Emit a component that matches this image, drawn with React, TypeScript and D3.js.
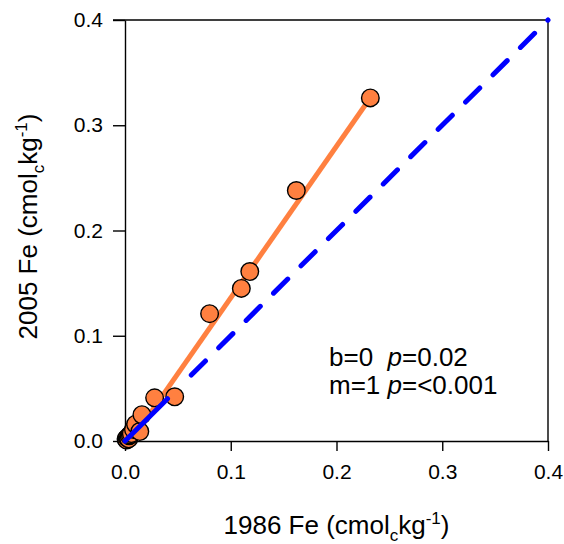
import { useEffect, useRef } from 'react';
import * as d3 from 'd3';

// Fe, 1986 vs 2005 (cmolc kg-1)
const fe1986 = [0.001, 0.0015, 0.002, 0.003, 0.0035, 0.004, 0.005, 0.006, 0.008, 0.010, 0.014, 0.016, 0.028, 0.047, 0.080, 0.110, 0.118, 0.162, 0.232];
const fe2005 = [0.002, 0.001, 0.003, 0.003, 0.002, 0.005, 0.006, 0.007, 0.011, 0.016, 0.009, 0.025, 0.041, 0.042, 0.121, 0.145, 0.161, 0.238, 0.326];

// regression line
const fitSlope = 1.44;
const fitIntercept = -0.008;

// 1:1 reference line
const oneToOne = [0, 0.4];

const axisTicks = [0, 0.1, 0.2, 0.3, 0.4];
const statLines = [
  { label: 'b=0', gap: '  ', p: '=0.02' },
  { label: 'm=1', gap: ' ', p: '=<0.001' },
];

export default function App() {
  const svgRef = useRef<SVGSVGElement>(null);

  useEffect(() => {
    if (!svgRef.current) return;
    const svg = d3.select(svgRef.current);
    svg.selectAll('*').remove();

    const font = 'Liberation Sans, Arial, sans-serif';
    const x = d3.scaleLinear().domain([0, 0.4]).range([125, 548]);
    const y = d3.scaleLinear().domain([0, 0.4]).range([441, 20]);

    svg.append('defs').append('clipPath').attr('id', 'plot-clip')
      .append('rect')
      .attr('x', x(0)).attr('y', y(0.4))
      .attr('width', x(0.4) - x(0)).attr('height', y(0) - y(0.4));

    // frame (top + right)
    svg.append('path')
      .attr('d', `M${x(0) - 12},${y(0.4)}H${x(0.4)}V${y(0)}`)
      .attr('fill', 'none').attr('stroke', '#000').attr('stroke-width', 1.4);

    // axes
    svg.append('g')
      .attr('transform', `translate(0,${y(0)})`)
      .call(d3.axisBottom(x).tickValues(axisTicks).tickSize(10).tickSizeOuter(0).tickPadding(13).tickFormat(d3.format('.1f')))
      .call(g => {
        g.select('.domain').attr('stroke-width', 1.4);
        g.selectAll('.tick line').attr('stroke-width', 1.4);
        g.selectAll('.tick text').attr('font-family', font).attr('font-size', 21).attr('fill', '#000');
      });

    svg.append('g')
      .attr('transform', `translate(${x(0)},0)`)
      .call(d3.axisLeft(y).tickValues(axisTicks).tickSize(12).tickSizeOuter(0).tickPadding(10).tickFormat(d3.format('.1f')))
      .call(g => {
        g.select('.domain').attr('stroke-width', 1.4);
        g.selectAll('.tick line').attr('stroke-width', 1.4);
        g.selectAll('.tick text').attr('font-family', font).attr('font-size', 21).attr('fill', '#000');
      });

    const plot = svg.append('g').attr('clip-path', 'url(#plot-clip)');

    // regression line
    const xMin = d3.min(fe1986) as number;
    const xMax = d3.max(fe1986) as number;
    plot.append('line')
      .attr('x1', x(xMin)).attr('y1', y(fitIntercept + fitSlope * xMin))
      .attr('x2', x(xMax)).attr('y2', y(fitIntercept + fitSlope * xMax))
      .attr('stroke', '#ff8040').attr('stroke-width', 5);

    // points
    svg.append('g').selectAll('circle')
      .data(fe1986.map((v, i) => ({ x: v, y: fe2005[i] })))
      .enter()
      .append('circle')
      .attr('cx', d => x(d.x))
      .attr('cy', d => y(d.y))
      .attr('r', 8.8)
      .attr('fill', '#ff8040')
      .attr('stroke', '#000')
      .attr('stroke-width', 1.4);

    // 1:1 dashed line
    const dashes = [60, 33.5];
    for (let i = 0; i < 16; i++) dashes.push(20, 18.7);
    svg.append('line')
      .attr('x1', x(oneToOne[0])).attr('y1', y(oneToOne[0]))
      .attr('x2', x(oneToOne[1])).attr('y2', y(oneToOne[1]))
      .attr('stroke', '#0000ff').attr('stroke-width', 5)
      .attr('stroke-linecap', 'round')
      .attr('stroke-dasharray', dashes.join(' '));

    // stats text
    const stats = svg.append('g').attr('font-family', font).attr('font-size', 26).attr('fill', '#000');
    statLines.forEach((s, i) => {
      const t = stats.append('text').attr('x', 329).attr('y', 366 + i * 28).attr('xml:space', 'preserve');
      t.append('tspan').text(s.label + s.gap);
      t.append('tspan').attr('font-style', 'italic').text('p');
      t.append('tspan').text(s.p);
    });

    // axis titles
    const unit = (t: d3.Selection<SVGTextElement, unknown, null, undefined>, lead: string) => {
      t.append('tspan').text(lead + ' (cmol');
      t.append('tspan').attr('font-size', 17).attr('dy', 7).text('c');
      t.append('tspan').attr('dy', -7).text('kg');
      t.append('tspan').attr('font-size', 17).attr('dy', -10).text('-1');
      t.append('tspan').attr('dy', 10).text(')');
    };

    const xt = svg.append('text')
      .attr('x', (x(0) + x(0.4)) / 2).attr('y', 534)
      .attr('text-anchor', 'middle').attr('font-family', font).attr('font-size', 26).attr('fill', '#000');
    unit(xt, '1986 Fe');

    const yt = svg.append('text')
      .attr('transform', `translate(37,${(y(0) + y(0.4)) / 2 - 4}) rotate(-90)`)
      .attr('text-anchor', 'middle').attr('font-family', font).attr('font-size', 26).attr('fill', '#000');
    unit(yt, '2005 Fe');
  }, []);

  return (
    <svg ref={svgRef} width={564} height={544}
      style={{ position: 'absolute', left: 0, top: 0, background: '#fff' }} />
  );
}
